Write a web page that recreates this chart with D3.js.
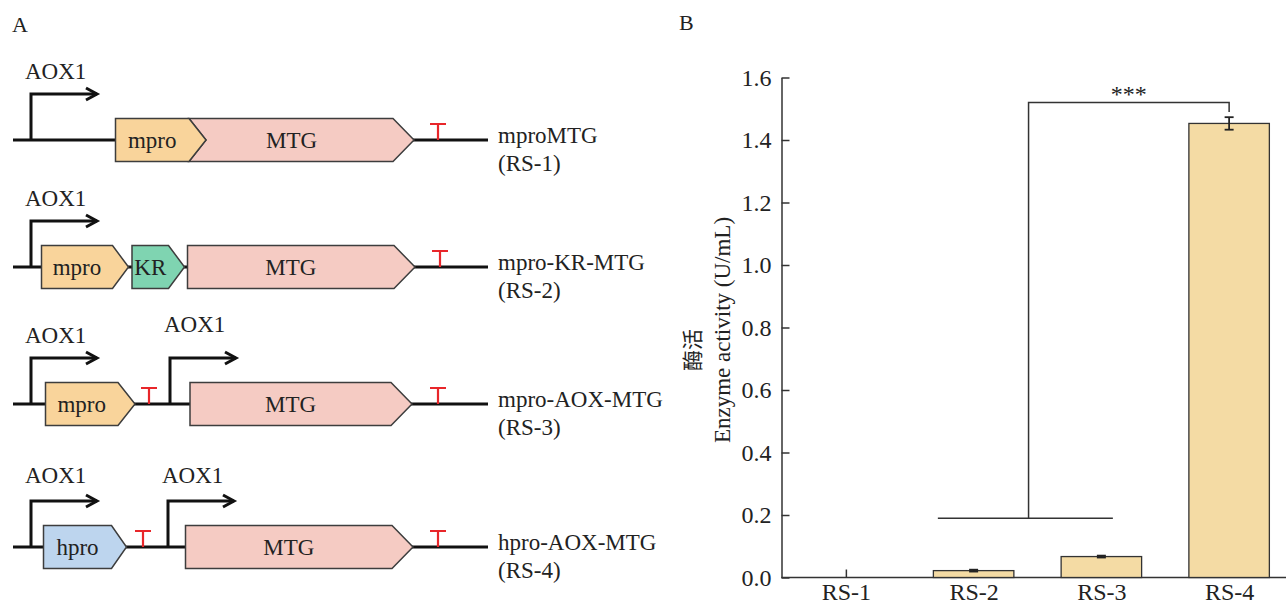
<!DOCTYPE html>
<html>
<head>
<meta charset="utf-8">
<script src="https://cdn.jsdelivr.net/npm/d3@7"></script>
<style>
  body { margin: 0; background: #fff; }
  svg { display: block; font-family: "Liberation Serif", "Times New Roman", serif; }
</style>
</head>
<body>
<div id="chart"></div>
<script>
// ---- panel B values ----
var strains = ["RS-1", "RS-2", "RS-3", "RS-4"];
var activity = [0, 0.022, 0.067, 1.453];
var activityErr = [0, 0.003, 0.003, 0.02];
var yTicks = [0, 0.2, 0.4, 0.6, 0.8, 1.0, 1.2, 1.4, 1.6];
var sigLow = 0.19, sigHigh = 1.52, sigDrop = 1.49, sigText = "***";

// ---- panel A constructs (schematic units along the backbone) ----
var constructNames = ["mproMTG", "mpro-KR-MTG", "mpro-AOX-MTG", "hpro-AOX-MTG"];
var constructTags = ["(RS-1)", "(RS-2)", "(RS-3)", "(RS-4)"];
var promoters = [[18], [18], [18, 157], [18, 155]];
var promoterLift = [[61], [61], [61, 72], [64, 64]];
var terminators = [[425], [427], [136, 425], [130, 425]];
var genes = [
  [{ name: "MTG", start: 176, end: 401, tip: 21, notch: 17 },
   { name: "mpro", start: 102.5, end: 193, tip: 17 }],
  [{ name: "mpro", start: 28.5, end: 115.5, tip: 16 },
   { name: "KR", start: 119, end: 171.5, tip: 16 },
   { name: "MTG", start: 174.5, end: 402, tip: 21 }],
  [{ name: "mpro", start: 32.5, end: 122, tip: 17 },
   { name: "MTG", start: 177, end: 399, tip: 21 }],
  [{ name: "hpro", start: 30.5, end: 113.5, tip: 15 },
   { name: "MTG", start: 172.5, end: 400, tip: 21 }]
];
var geneColor = { mpro: "#f9d49b", MTG: "#f5cbc3", KR: "#7fd4b1", hpro: "#bdd5ee" };

var W = 1286, H = 606;
var ink = "#222";

var svg = d3.select("#chart").append("svg")
  .attr("width", W).attr("height", H);

drawPanelA();
drawPanelB();

function drawPanelA() {
  var g = svg.append("g");
  var xA = d3.scaleLinear().domain([0, 475]).range([13, 488]);
  var rowY = d3.scaleOrdinal().domain(constructNames).range([140, 267, 404, 547]);
  var boxH = 43;

  g.append("text").attr("x", 12).attr("y", 32)
    .attr("font-size", 22).attr("fill", ink).text("A");

  constructNames.forEach(function (name, i) {
    var yc = rowY(name);
    var row = g.append("g");

    // backbone
    row.append("line")
      .attr("x1", xA(0)).attr("x2", xA(475))
      .attr("y1", yc).attr("y2", yc)
      .attr("stroke", "#111").attr("stroke-width", 3);

    // promoters
    promoters[i].forEach(function (p, k) {
      var px = xA(p), top = yc - 46;
      var ax = px + 66;
      row.append("path")
        .attr("d", "M" + px + "," + yc + "V" + top + "H" + ax)
        .attr("fill", "none").attr("stroke", "#111").attr("stroke-width", 3);
      row.append("path")
        .attr("d", "M" + (ax - 11) + "," + (top - 6) + "L" + ax + "," + top + "L" + (ax - 11) + "," + (top + 6))
        .attr("fill", "none").attr("stroke", "#111").attr("stroke-width", 3)
        .attr("stroke-linejoin", "miter");
      row.append("text")
        .attr("x", px - 6).attr("y", yc - promoterLift[i][k])
        .attr("font-size", 23).attr("fill", ink).text("AOX1");
    });

    // terminators
    terminators[i].forEach(function (t) {
      var tx = xA(t);
      row.append("path")
        .attr("d", "M" + tx + "," + yc + "V" + (yc - 16) + "M" + (tx - 8) + "," + (yc - 16) + "H" + (tx + 8))
        .attr("fill", "none").attr("stroke", "#e8262a").attr("stroke-width", 2.2);
    });

    // genes
    genes[i].forEach(function (gn) {
      var s = xA(gn.start), e = xA(gn.end), b = e - gn.tip;
      var t = yc - boxH / 2, bt = yc + boxH / 2;
      var d = "M" + s + "," + t + "L" + b + "," + t + "L" + e + "," + yc +
        "L" + b + "," + bt + "L" + s + "," + bt;
      if (gn.notch) d += "L" + (s + gn.notch) + "," + yc;
      d += "Z";
      row.append("path").attr("d", d)
        .attr("fill", geneColor[gn.name])
        .attr("stroke", "#3d3d3d").attr("stroke-width", 1.5)
        .attr("stroke-linejoin", "miter");
      var cx = gn.notch ? (s + gn.notch + b) / 2 - 8 : (s + b) / 2;
      row.append("text")
        .attr("x", cx).attr("y", yc + 8)
        .attr("text-anchor", "middle")
        .attr("font-size", 23).attr("fill", ink).text(gn.name);
    });

    // construct names
    row.append("text").attr("x", xA(485)).attr("y", yc + 3)
      .attr("font-size", 23).attr("fill", ink).text(name);
    row.append("text").attr("x", xA(485)).attr("y", yc + 31)
      .attr("font-size", 23).attr("fill", ink).text(constructTags[i]);
  });
}

function drawPanelB() {
  var g = svg.append("g");
  var x = d3.scalePoint().domain(strains).range([782, 1293]).padding(0.5);
  var y = d3.scaleLinear().domain([0, 1.6]).range([577.5, 77.5]);
  var step = x.step();
  var barW = step * 0.63;

  g.append("text").attr("x", 679).attr("y", 30)
    .attr("font-size", 22).attr("fill", ink).text("B");

  // axes
  var yAxis = g.append("g")
    .attr("transform", "translate(781.5,0)")
    .call(d3.axisLeft(y).tickValues(yTicks)
      .tickFormat(d3.format(".1f"))
      .tickSizeInner(-8).tickSizeOuter(0).tickPadding(10));

  var xAxis = g.append("g")
    .attr("transform", "translate(0,577.5)")
    .call(d3.axisBottom(x).tickSizeInner(-8).tickSizeOuter(0).tickPadding(5));
  xAxis.select(".domain").attr("d", "M781.5,0H" + W);

  [yAxis, xAxis].forEach(function (ax) {
    ax.selectAll("path, line").attr("stroke", "#333").attr("stroke-width", 1.5);
    ax.selectAll("text").attr("font-size", 24).attr("fill", ink)
      .attr("font-family", "'Liberation Serif', 'Times New Roman', serif");
  });

  // bars
  var data = strains.map(function (s, i) {
    return { s: s, v: activity[i], e: activityErr[i] };
  });
  g.selectAll("rect.bar").data(data.filter(function (d) { return d.v > 0; }))
    .enter().append("rect").attr("class", "bar")
    .attr("x", function (d) { return x(d.s) - barW / 2; })
    .attr("y", function (d) { return y(d.v); })
    .attr("width", barW)
    .attr("height", function (d) { return y(0) - y(d.v); })
    .attr("fill", "#f4dba4")
    .attr("stroke", "#333").attr("stroke-width", 1.3);

  // error bars
  var eb = g.selectAll("g.err").data(data.filter(function (d) { return d.e > 0; }))
    .enter().append("g").attr("class", "err")
    .attr("stroke", "#222").attr("stroke-width", 1.8);
  eb.append("line")
    .attr("x1", function (d) { return x(d.s); }).attr("x2", function (d) { return x(d.s); })
    .attr("y1", function (d) { return y(d.v - d.e); })
    .attr("y2", function (d) { return y(d.v + d.e); });
  eb.append("line")
    .attr("x1", function (d) { return x(d.s) - 4.5; }).attr("x2", function (d) { return x(d.s) + 4.5; })
    .attr("y1", function (d) { return y(d.v + d.e); }).attr("y2", function (d) { return y(d.v + d.e); });
  eb.append("line")
    .attr("x1", function (d) { return x(d.s) - 4.5; }).attr("x2", function (d) { return x(d.s) + 4.5; })
    .attr("y1", function (d) { return y(d.v - d.e); }).attr("y2", function (d) { return y(d.v - d.e); });

  // significance bracket
  var lx1 = x("RS-2") - 0.28 * step, lx2 = x("RS-3") + 0.09 * step;
  var vx = x("RS-2") + 0.43 * step;
  g.append("line")
    .attr("x1", lx1).attr("x2", lx2).attr("y1", y(sigLow)).attr("y2", y(sigLow))
    .attr("stroke", "#333").attr("stroke-width", 1.5);
  g.append("path")
    .attr("d", "M" + vx + "," + y(sigLow) + "V" + y(sigHigh) + "H" + x("RS-4") + "V" + y(sigDrop))
    .attr("fill", "none").attr("stroke", "#333").attr("stroke-width", 1.5);
  g.append("text")
    .attr("x", (vx + x("RS-4")) / 2).attr("y", y(sigHigh) - 1)
    .attr("text-anchor", "middle").attr("font-size", 24).attr("fill", ink)
    .text(sigText);

  // y title
  g.append("text")
    .attr("transform", "translate(693,350) rotate(-90)")
    .attr("text-anchor", "middle").attr("dy", "0.35em")
    .attr("font-family", "'Noto Sans CJK SC', sans-serif")
    .attr("font-size", 21).attr("fill", ink).text("酶活");
  g.append("text")
    .attr("transform", "translate(722,330) rotate(-90)")
    .attr("text-anchor", "middle").attr("dy", "0.35em")
    .attr("font-size", 23).attr("fill", ink).text("Enzyme activity (U/mL)");
}
</script>
</body>
</html>
